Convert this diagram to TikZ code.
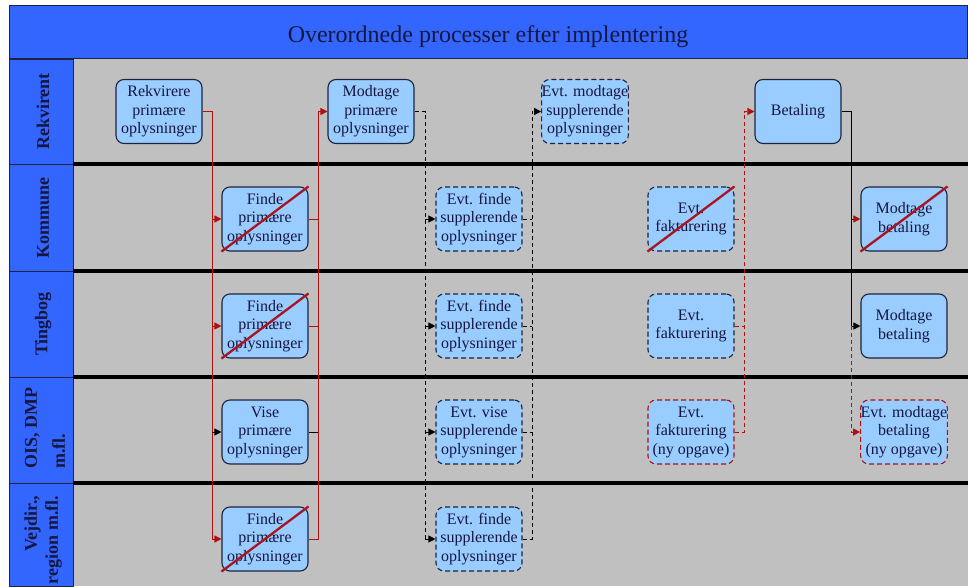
\documentclass[tikz,border=0pt]{standalone}
\usepackage{fontspec}
\setmainfont{Liberation Serif}
\usetikzlibrary{arrows.meta}

\definecolor{barblue}{RGB}{51,102,255}
\definecolor{lanegray}{RGB}{192,192,192}
\definecolor{boxblue}{RGB}{153,204,255}
\definecolor{boxline}{RGB}{28,36,64}
\definecolor{inkblue}{RGB}{22,22,64}
\definecolor{flowred}{RGB}{176,16,16}
\definecolor{crossred}{RGB}{168,20,32}

\begin{document}
\begin{tikzpicture}[x=1pt,y=-1pt,
		proc/.style={draw=boxline,fill=boxblue,line width=1.1pt,rounded corners=8pt,
			minimum width=86pt,minimum height=64pt,inner sep=0pt,align=center,
			text=inkblue,font=\fontsize{16}{18.5}\selectfont},
		maybeproc/.style={proc,dash pattern=on 5pt off 3pt},
		newproc/.style={maybeproc,draw=flowred},
		lanelabel/.style={rotate=90,text=inkblue,inner sep=0pt,
			font=\fontsize{18}{21}\selectfont\bfseries},
		strike/.style={draw=crossred,line width=2.3pt},
		tip/.style={-{Triangle[length=7pt,width=7pt]}},
		redline/.style={draw=flowred,line width=0.8pt},
		redflow/.style={redline,tip},
		blackline/.style={draw=black,line width=0.8pt},
		blackflow/.style={blackline,tip},
		dashline/.style={blackline,dash pattern=on 4pt off 3pt},
		dashflow/.style={dashline,tip},
		reddash/.style={redline,dash pattern=on 4pt off 3pt},
		reddashflow/.style={reddash,tip}]
		\useasboundingbox (0,0) rectangle (968,586);
		
		% title bar
		\fill[barblue] (9,6) rectangle (967,59);
		\draw[boxline,line width=1pt] (9,6) rectangle (967,59);
		\node[text=inkblue,font=\fontsize{24}{28}\selectfont,anchor=base] (title) at (488,43)
			{Overordnede processer efter implentering};
		
		% lanes
		\fill[lanegray] (73,59) rectangle (968,586);
		\fill[barblue] (9,59) rectangle (73,586);
		\draw[boxline,line width=0.8pt] (9,59) rectangle (73,586);
		\foreach \y in {164,271,377,483} {
			\draw[boxline,line width=0.8pt] (9,\y) -- (73,\y);
			\draw[line width=4.5pt] (73,\y) -- (968,\y);
		}
		\node[lanelabel] (lRek) at (43,111.5) {Rekvirent};
		\node[lanelabel] (lKom) at (43,218) {Kommune};
		\node[lanelabel] (lTing) at (43,324) {Tingbog};
		\node[lanelabel,align=left] (lOis) at (45,428) {OIS, DMP\\[7pt]m.fl.};
		\node[lanelabel,align=right] (lVej) at (43,540) {Vejdir.,\\region m.fl.};
		
		% processes
		\node[proc] (rek) at (159,111.5) {Rekvirere\\primære\\oplysninger};
		\node[proc] (modt) at (371,111.5) {Modtage\\primære\\oplysninger};
		\node[maybeproc] (evtmod) at (585,111.5) {Evt. modtage\\supplerende\\oplysninger};
		\node[proc] (bet) at (798,111.5) {Betaling};
		
		\node[proc] (findeK) at (265,219) {Finde\\primære\\oplysninger};
		\node[maybeproc] (suppK) at (479,219) {Evt. finde\\supplerende\\oplysninger};
		\node[maybeproc] (faktK) at (691,219) {Evt.\\fakturering};
		\node[proc] (modbetK) at (904,219) {Modtage\\betaling};
		
		\node[proc] (findeT) at (265,326) {Finde\\primære\\oplysninger};
		\node[maybeproc] (suppT) at (479,326) {Evt. finde\\supplerende\\oplysninger};
		\node[maybeproc] (faktT) at (691,326) {Evt.\\fakturering};
		\node[proc] (modbetT) at (904,326) {Modtage\\betaling};
		
		\node[proc] (vise) at (265,432) {Vise\\primære\\oplysninger};
		\node[maybeproc] (suppO) at (479,432) {Evt. vise\\supplerende\\oplysninger};
		\node[newproc] (faktO) at (691,432) {Evt.\\fakturering\\(ny opgave)};
		\node[newproc] (modbetO) at (904,432) {Evt. modtage\\betaling\\(ny opgave)};
		
		\node[proc] (findeV) at (265,539) {Finde\\primære\\oplysninger};
		\node[maybeproc] (suppV) at (479,539) {Evt. finde\\supplerende\\oplysninger};
		
		% bus points
		\coordinate (splitA) at (212,111.5);
		\coordinate (joinA) at (318,111.5);
		\coordinate (splitB) at (425,111.5);
		\coordinate (joinB) at (532,111.5);
		\coordinate (joinC) at (744,111.5);
		\coordinate (splitD) at (851,111.5);
		
		% primary information
		\draw[redline] (rek.east) -- (splitA) -- (splitA |- findeV.west);
		\foreach \n in {findeK,findeT,findeV}
			\draw[redflow] (splitA |- \n.west) -- (\n.west);
		\draw[blackflow] (splitA |- vise.west) -- (vise.west);
		\foreach \n in {findeK,findeT}
			\draw[redline] (\n.east) -- (\n.east -| joinA);
		\draw[blackline] (vise.east) -- (vise.east -| joinA);
		\draw[redflow] (findeV.east) -| (joinA) -- (modt.west);
		
		% supplementary information
		\draw[dashline] (modt.east) -- (splitB) -- (splitB |- suppV.west);
		\foreach \n in {suppK,suppT,suppO,suppV}
			\draw[dashflow] (splitB |- \n.west) -- (\n.west);
		\foreach \n in {suppK,suppT,suppO}
			\draw[dashline] (\n.east) -- (\n.east -| joinB);
		\draw[dashflow] (suppV.east) -| (joinB) -- (evtmod.west);
		
		% invoicing and payment
		\foreach \n in {faktK,faktT}
			\draw[reddash] (\n.east) -- (\n.east -| joinC);
		\draw[reddashflow] (faktO.east) -| (joinC) -- (bet.west);
		\draw[blackline] (bet.east) -- (splitD) -- (splitD |- modbetT.west);
		\draw[blackline,-{Triangle[length=7pt,width=7pt,color=flowred]}]
			(splitD |- modbetK.west) -- (modbetK.west);
		\draw[blackflow] (splitD |- modbetT.west) -- (modbetT.west);
		\draw[reddashflow] (splitD |- modbetT.west) |- (modbetO.west);
		
		% struck out tasks
		\foreach \n in {findeK,findeT,findeV,faktK,modbetK}
			\draw[strike] (\n.south west) -- (\n.north east);
	\end{tikzpicture}
\end{document}
